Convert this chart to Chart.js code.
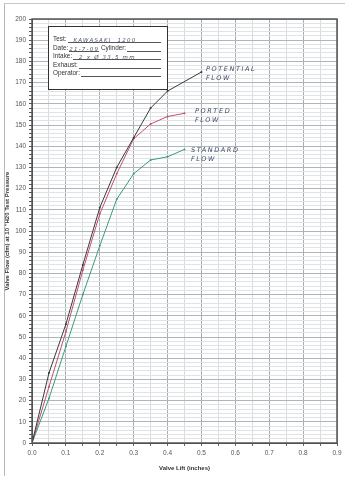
<!DOCTYPE html>
<html>
<head>
<meta charset="utf-8">
<script src="https://cdn.jsdelivr.net/npm/chart.js@4/dist/chart.umd.min.js"></script>
<style>
  html, body { margin: 0; padding: 0; background: #fff; }
  #page { position: relative; width: 347px; height: 480px; overflow: hidden; font-family: "Liberation Sans", Arial, sans-serif; }
  #page canvas { position: absolute; left: 0; top: 0; }
  .frame { position: absolute; left: 4px; top: 3px; width: 340px; height: 472px; border-left: 1px solid #b8b8b8; border-top: 1px solid #c8c8c8; }
  .info { position: absolute; left: 48px; top: 26px; width: 114px; height: 54px; border: 1.5px solid #333; background: #fff;
          padding: 8px 0 0 4px; box-sizing: content-box; font-size: 6.4px; color: #333; }
  .info .row { display: flex; align-items: flex-end; height: 8.4px; line-height: 8px; width: 108px; }
  .info .fill { flex: 1; border-bottom: 0.8px solid #555; height: 6px; margin-left: 1px; white-space: nowrap; }
  .hand { font-family: "DejaVu Sans", sans-serif; font-style: italic; color: #4a5570; letter-spacing: 1.2px; font-size: 5.5px; }
  .note { position: absolute; font-family: "DejaVu Sans", sans-serif; font-style: italic; color: #3f4a66; font-size: 6.5px; letter-spacing: 1.6px; line-height: 9px; }
</style>
</head>
<body>
<div id="page">
  <canvas id="flowChart" width="347" height="480"></canvas>
  <div class="frame"></div>
  <div class="info">
    <div class="row">Test:<span class="fill hand">&nbsp;&nbsp;KAWASAKI&nbsp;&nbsp;1200</span></div>
    <div class="row">Date:<span class="fill hand" style="flex:0 0 26px">21-7-09</span>&nbsp;Cylinder:<span class="fill"></span></div>
    <div class="row">Intake:<span class="fill hand">&nbsp;&nbsp;2 x Ø 33.5 mm</span></div>
    <div class="row">Exhaust:<span class="fill"></span></div>
    <div class="row">Operator:<span class="fill"></span></div>
  </div>
  <div class="note" style="left:206px; top:65px;">POTENTIAL<br>FLOW</div>
  <div class="note" style="left:195px; top:107px;">PORTED<br>FLOW</div>
  <div class="note" style="left:191px; top:146px;">STANDARD<br>FLOW</div>
</div>
<script>
// valores (lift em polegadas, fluxo em cfm)
const potentialLift = [0, 0.05, 0.1, 0.15, 0.2, 0.25, 0.3, 0.35, 0.4, 0.5];
const potentialFlow = [0, 33, 56, 84, 111, 130, 144, 158, 166, 175];
const portedLift = [0, 0.05, 0.1, 0.15, 0.2, 0.25, 0.3, 0.35, 0.4, 0.45];
const portedFlow = [0, 26.5, 52.5, 81.5, 108, 127, 143.5, 150.5, 154, 155.5];
const standardLift = [0, 0.05, 0.1, 0.15, 0.2, 0.25, 0.3, 0.35, 0.4, 0.45];
const standardFlow = [0, 21, 45.5, 70, 93, 115, 127, 133.5, 135, 138.5];

const xTitle = 'Valve Lift (inches)';
const yTitle = 'Valve Flow (cfm) at 10 "H20 Test Pressure';

function toPoints(xs, ys) {
    return xs.map((x, i) => ({ x: x, y: ys[i] }));
}

// moldura escura em volta da área do gráfico (papel milimetrado)
const paperBorder = {
    id: 'paperBorder',
    afterDraw(chart) {
        const a = chart.chartArea;
        const ctx = chart.ctx;
        ctx.save();
        ctx.strokeStyle = '#555';
        ctx.lineWidth = 1.5;
        ctx.strokeRect(a.left, a.top, a.right - a.left, a.bottom - a.top);
        ctx.restore();
    }
};

const tickFont = { family: 'Liberation Sans, Arial', size: 6.5 };
const titleFont = { family: 'Liberation Sans, Arial', size: 6, weight: 'bold' };

new Chart(document.getElementById('flowChart'), {
    type: 'line',
    data: {
        datasets: [
            { label: 'Potential Flow', data: toPoints(potentialLift, potentialFlow), borderColor: '#3a3a3a', backgroundColor: '#3a3a3a' },
            { label: 'Ported Flow', data: toPoints(portedLift, portedFlow), borderColor: '#c2506e', backgroundColor: '#c2506e' },
            { label: 'Standard Flow', data: toPoints(standardLift, standardFlow), borderColor: '#3c9a7c', backgroundColor: '#3c9a7c' }
        ]
    },
    options: {
        responsive: false,
        animation: false,
        layout: { padding: { left: 2, top: 19, right: 10, bottom: 7 } },
        elements: {
            line: { borderWidth: 1, tension: 0 },
            point: { radius: 1, borderWidth: 0 }
        },
        plugins: { legend: { display: false }, tooltip: { enabled: false } },
        scales: {
            x: {
                type: 'linear',
                min: 0, max: 0.9,
                afterFit: s => { s.height = 30; },
                border: { color: '#444', width: 1 },
                grid: {
                    color: c => Math.round(c.tick.value * 20) % 2 === 0 ? '#a9aeb3' : '#d9dcdf',
                    tickColor: '#666',
                    tickLength: 3
                },
                ticks: {
                    stepSize: 0.05,
                    autoSkip: false,
                    maxRotation: 0,
                    padding: 3,
                    color: '#555',
                    font: tickFont,
                    callback: v => Math.round(v * 20) % 2 === 0 ? (Math.round(v * 10) / 10).toFixed(1) : ''
                },
                title: { display: true, text: xTitle, color: '#333', font: titleFont, padding: { top: 2, bottom: 1 } }
            },
            y: {
                min: 0, max: 200,
                afterFit: s => { s.width = 30; },
                border: { color: '#444', width: 1 },
                grid: {
                    color: c => c.tick.value % 10 === 0 ? '#b0b5ba' : '#e0e3e5',
                    tickColor: '#555',
                    tickLength: 3
                },
                ticks: {
                    stepSize: 2,
                    autoSkip: false,
                    padding: 3,
                    color: '#555',
                    font: tickFont,
                    callback: v => v % 10 === 0 ? v : ''
                },
                title: { display: true, text: yTitle, color: '#333', font: titleFont, padding: { top: 2, bottom: 0 } }
            }
        }
    },
    plugins: [paperBorder]
});
</script>
</body>
</html>
